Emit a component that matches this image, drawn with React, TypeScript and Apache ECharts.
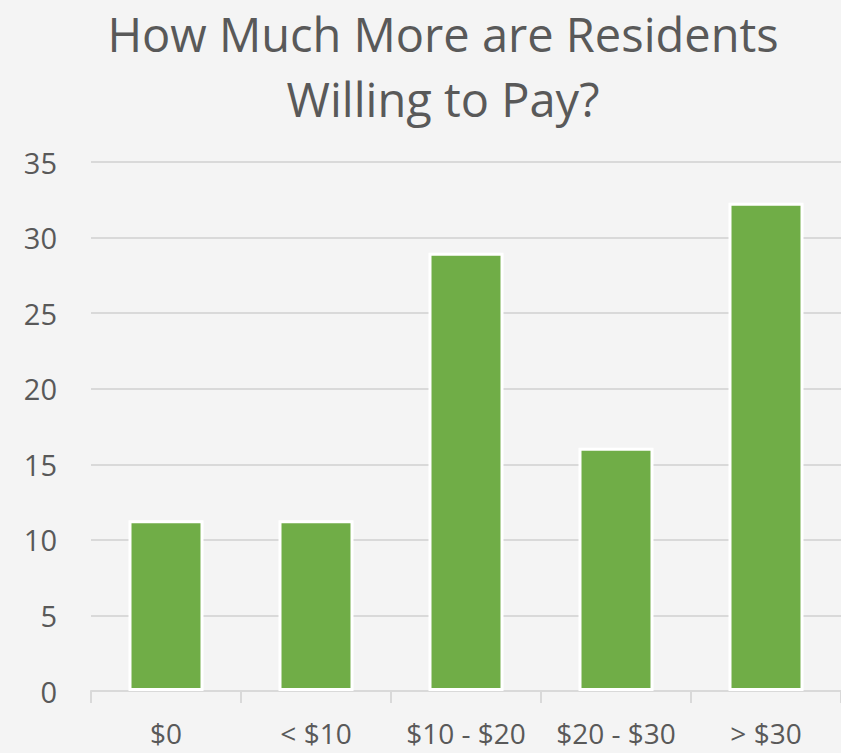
import React, { useEffect, useRef } from "react";
import * as echarts from "echarts";

const titleText = "How Much More are Residents\nWilling to Pay?";
const categories = ["$0", "< $10", "$10 - $20", "$20 - $30", "> $30"];
const values = [11.3, 11.3, 29.0, 16.1, 32.3];
const yTicks = { min: 0, max: 35, interval: 5 };

export default function App() {
  const ref = useRef<HTMLDivElement>(null);
  useEffect(() => {
    document.body.style.margin = "0";
    const chart = echarts.init(ref.current!, null, { renderer: "svg" });
    const font = "'Open Sans', 'Noto Sans', sans-serif";
    chart.setOption({
      animation: false,
      backgroundColor: "#f4f4f4",
      title: {
        text: titleText,
        left: 438,
        top: -4,
        textAlign: "center",
        textStyle: {
          fontFamily: font,
          fontSize: 47,
          fontWeight: "normal",
          color: "#595959",
          lineHeight: 65,
        },
      },
      grid: { left: 91, right: 0, top: 162, bottom: 62, containLabel: false },
      xAxis: {
        type: "category",
        data: categories,
        axisLine: { show: true, lineStyle: { color: "#d9d9d9", width: 2 } },
        axisTick: { show: true, length: 12, lineStyle: { color: "#d9d9d9", width: 2 } },
        axisLabel: {
          interval: 0,
          fontFamily: font,
          fontSize: 28,
          lineHeight: 28,
          color: "#595959",
          margin: 28,
        },
      },
      yAxis: {
        type: "value",
        min: yTicks.min,
        max: yTicks.max,
        interval: yTicks.interval,
        axisLine: { show: false },
        axisTick: { show: false },
        splitLine: { lineStyle: { color: "#d9d9d9", width: 2 } },
        axisLabel: {
          fontFamily: font,
          fontSize: 29,
          color: "#595959",
          margin: 34,
        },
      },
      series: [
        {
          type: "bar",
          data: values,
          barWidth: "50%",
          itemStyle: { color: "#70AD47", borderColor: "#ffffff", borderWidth: 3 },
        },
      ],
    });
    return () => chart.dispose();
  }, []);
  return <div ref={ref} style={{ width: 841, height: 753 }} />;
}
